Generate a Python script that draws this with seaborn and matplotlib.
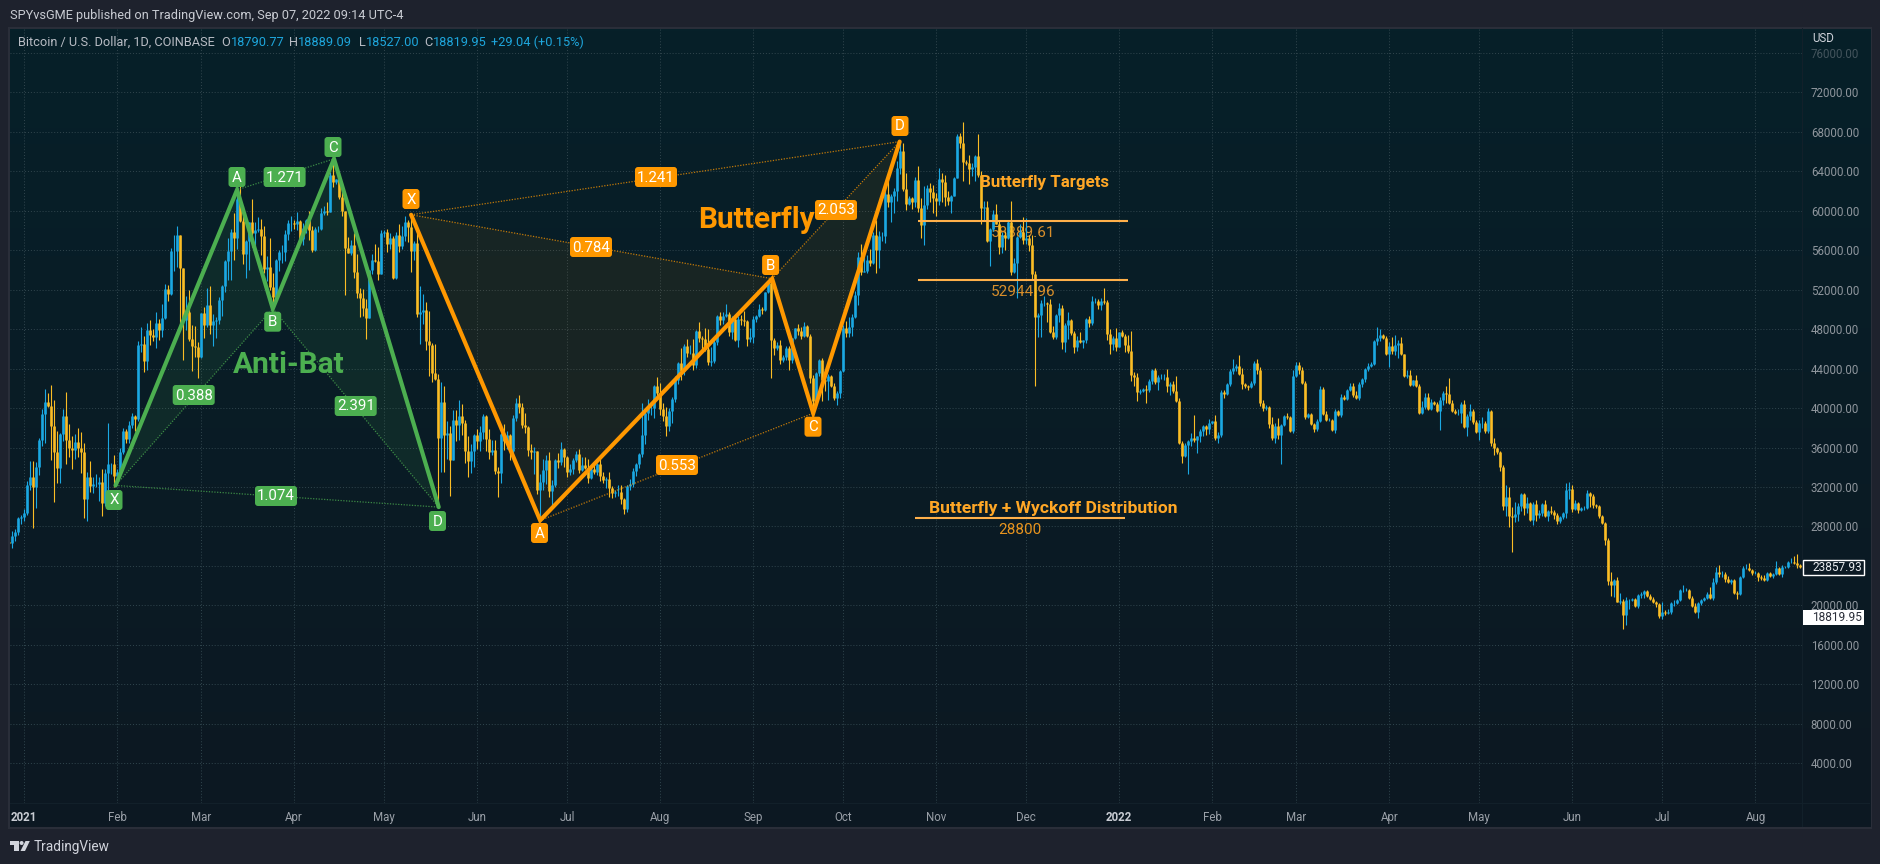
import numpy as np
import pandas as pd
import matplotlib
matplotlib.use("Agg")
import matplotlib.pyplot as plt
import matplotlib.transforms as mtransforms
from matplotlib.patches import FancyBboxPatch, Polygon, Rectangle, Circle
import seaborn as sns

# daily candles from Dec 27 2020 to Aug 16 2022, prices in thousands of USD
first_open = 26.4
closes = [
    26.3, 27.0, 27.4, 28.9, 29.0,
    29.4, 32.2, 33.0, 32.0, 34.0, 36.8, 39.4, 40.6, 40.2, 38.2, 35.5, 33.9, 37.4, 39.2, 36.8, 36.0, 35.8, 36.6, 36.0, 35.5, 30.8, 33.0, 32.1, 32.3, 32.3, 32.5, 30.4, 33.4, 34.3, 34.3, 33.1,
    33.5, 35.5, 37.7, 36.9, 38.3, 39.2, 38.9, 46.4, 46.5, 44.8, 47.9, 47.4, 47.2, 48.6, 47.9, 49.1, 52.1, 51.6, 55.9, 55.9, 57.5, 54.2, 48.9, 49.7, 47.0, 46.3, 46.2, 45.2,
    49.6, 48.4, 50.4, 48.4, 48.8, 48.9, 51.0, 52.4, 54.9, 55.9, 57.8, 57.2, 61.2, 59.0, 55.6, 56.9, 58.9, 57.7, 58.0, 58.1, 57.4, 54.1, 54.3, 52.3, 51.3, 55.0, 55.8, 55.8, 57.6, 58.8, 58.8,
    58.7, 59.0, 57.1, 58.2, 59.1, 58.0, 56.0, 58.1, 58.1, 59.8, 60.0, 59.9, 63.6, 62.9, 63.2, 61.4, 60.0, 56.2, 55.7, 56.5, 53.8, 51.7, 51.2, 50.1, 49.1, 54.0, 55.0, 54.9, 53.6, 57.7,
    57.8, 56.6, 57.2, 53.2, 57.5, 56.4, 57.4, 58.9, 58.3, 55.9, 56.7, 49.5, 49.7, 49.9, 46.8, 46.4, 43.6, 42.9, 37.0, 40.6, 37.3, 37.5, 34.7, 38.8, 38.3, 39.2, 38.5, 35.7, 34.6, 35.7, 37.3,
    36.7, 37.6, 39.2, 36.9, 35.5, 35.8, 33.6, 33.4, 37.4, 36.7, 37.3, 35.6, 39.0, 40.5, 40.1, 38.3, 38.1, 35.8, 35.5, 35.6, 31.7, 32.5, 33.7, 34.7, 31.6, 32.2, 34.7, 34.5, 35.9, 35.0,
    33.5, 33.8, 34.7, 35.3, 33.7, 34.2, 33.9, 32.9, 33.8, 33.5, 34.3, 33.1, 32.7, 32.8, 31.9, 31.4, 31.5, 31.5, 30.8, 29.8, 32.1, 32.3, 33.6, 34.3, 35.3, 37.3, 39.5, 40.0, 40.0, 42.2, 41.5,
    39.9, 39.2, 38.2, 39.7, 40.9, 42.8, 44.6, 43.8, 46.3, 45.6, 45.6, 44.4, 47.8, 47.1, 47.0, 46.0, 44.7, 44.8, 46.7, 49.3, 48.9, 49.3, 49.5, 47.7, 49.0, 46.9, 49.0, 48.9, 48.8, 47.0, 47.2,
    49.0, 49.3, 50.0, 49.9, 51.8, 52.7, 46.9, 46.1, 46.4, 44.9, 45.2, 46.1, 44.9, 47.1, 48.1, 47.8, 47.3, 48.3, 47.3, 43.0, 40.7, 43.6, 44.9, 42.8, 42.7, 43.2, 42.2, 41.0, 41.5, 43.8,
    48.1, 47.6, 48.2, 49.2, 51.5, 55.3, 53.8, 53.9, 55.0, 54.7, 57.5, 56.0, 57.4, 57.4, 61.7, 60.9, 61.5, 62.0, 64.3, 66.0, 62.2, 60.7, 61.3, 60.9, 63.1, 60.3, 58.5, 60.6, 62.3, 61.9, 61.3,
    61.0, 63.2, 62.9, 61.4, 61.0, 61.5, 63.3, 67.6, 66.9, 64.9, 64.8, 64.2, 64.4, 65.5, 63.6, 60.3, 60.4, 56.9, 58.1, 59.7, 58.7, 56.3, 57.5, 57.2, 58.9, 53.8, 54.7, 57.3, 57.8, 57.0,
    57.2, 56.5, 53.6, 49.2, 49.4, 50.6, 50.6, 50.5, 47.7, 47.2, 49.4, 50.1, 46.7, 48.4, 48.9, 47.6, 46.2, 46.9, 46.7, 46.9, 49.0, 48.6, 50.8, 50.8, 50.4, 50.8, 50.7, 47.5, 46.5, 47.1, 46.2,
    47.7, 47.3, 46.4, 45.8, 43.4, 43.1, 41.6, 41.7, 41.9, 41.8, 42.7, 43.9, 42.6, 43.1, 43.1, 43.1, 42.2, 42.4, 41.7, 40.7, 36.5, 35.1, 36.3, 36.7, 37.0, 36.8, 37.2, 37.7, 38.2, 37.9, 38.5,
    38.7, 37.0, 37.3, 41.6, 41.4, 42.4, 43.8, 44.1, 44.3, 43.5, 42.4, 42.2, 42.1, 42.5, 44.6, 43.9, 40.5, 40.0, 40.1, 38.4, 37.0, 38.2, 37.3, 38.3, 39.2, 39.1, 37.7, 43.2,
    44.4, 43.9, 42.5, 39.1, 39.4, 38.4, 37.9, 38.7, 41.9, 39.4, 38.8, 38.8, 37.8, 39.7, 39.3, 41.1, 40.9, 41.8, 42.2, 41.3, 41.0, 42.4, 42.9, 44.0, 44.3, 44.5, 46.8, 47.1, 47.4, 47.1, 45.5,
    46.3, 45.8, 46.4, 46.6, 45.5, 43.2, 43.4, 42.3, 42.8, 42.2, 39.5, 40.1, 41.1, 39.9, 40.6, 40.4, 39.7, 40.8, 41.5, 41.4, 40.5, 39.7, 39.5, 39.5, 40.4, 38.1, 39.2, 39.7, 38.6, 37.6,
    38.5, 38.5, 37.7, 39.7, 36.5, 36.0, 35.5, 34.0, 30.1, 31.0, 29.1, 29.0, 29.3, 30.1, 31.3, 29.9, 30.4, 28.7, 30.3, 29.2, 29.4, 30.3, 29.1, 29.6, 29.5, 29.2, 28.6, 29.0, 29.4, 31.7, 31.8,
    29.8, 30.4, 29.7, 29.9, 29.9, 31.4, 31.1, 30.2, 30.1, 29.1, 28.4, 26.6, 22.5, 22.1, 22.6, 20.4, 20.5, 19.0, 20.6, 20.6, 20.7, 19.9, 21.1, 21.2, 21.5, 21.0, 20.7, 20.3, 20.1, 18.9,
    19.3, 19.2, 19.3, 20.2, 20.2, 20.6, 21.6, 21.6, 21.6, 20.8, 19.9, 19.3, 20.2, 20.6, 20.8, 21.2, 20.8, 22.4, 23.4, 23.2, 23.2, 22.7, 22.4, 22.6, 21.3, 21.2, 22.9, 23.8, 23.8, 23.6, 23.3,
    23.3, 22.9, 22.8, 22.6, 23.3, 23.0, 23.2, 23.8, 23.2, 23.9, 23.9, 24.4, 24.4, 24.3, 24.1, 23.9,
]
up_wick = [
    .6, .5, .3, .1, .2,
    .4, .4, 1.6, 1.6, .5, .2, .5, 1.3, .9, 2.1, 2.6, 2.2, .1, .7, 2.4, 1.6, 1.2, .8, 1.4, 1.6, 1.0, .5, 1.6, .7, 1.0, .5, 1.3, .4, 4.2, .1, .9,
    .3, .5, .3, .2, .4, .3, .1, .4, 1.7, .8, .7, 1.0, .6, 1.1, .4, 1.4, .5, .4, .3, 1.6, .9, .0, .0, 1.7, 2.3, 1.4, 2.0, .5,
    .0, .6, 1.8, 2.0, .7, .3, .3, .1, .1, 1.3, .3, 2.0, .6, 2.0, 1.5, .1, .0, 2.3, .9, 1.3, 1.1, 1.0, 1.1, 2.9, 1.4, .1, .2, .7, .4, .3, .7,
    .3, .9, .1, .6, .1, .9, .4, .2, .3, .5, .5, .9, .3, 2.0, .0, .6, 1.4, .0, 1.1, .5, 1.2, 1.8, .5, .9, 1.0, .0, .6, 1.6, 1.4, .3,
    .2, .3, .5, .2, .3, 1.1, 1.0, .6, .2, 1.2, .2, 1.3, 2.7, 1.7, .8, 3.0, .2, 2.9, .6, 2.0, 1.6, 1.2, .7, 1.0, 1.0, 1.6, 1.2, .3, 1.5, .7, .1,
    .6, .6, .2, .1, 1.0, 1.0, 1.0, .4, .1, 1.0, .4, .1, .3, .5, .8, .4, 1.2, .1, .6, .5, .1, .8, 1.1, .5, .8, .5, .1, .7, .7, .1,
    .1, .5, .2, .4, .6, .8, .8, .9, .3, .6, .1, .5, .4, .2, .7, .2, .2, .7, .7, .1, .1, .5, .3, .1, .1, 3.2, .1, .9, .6, .1, .9,
    1.0, .6, .9, .3, .2, .4, .1, 1.5, .2, .7, .8, 1.4, .1, .9, .2, 1.1, 2.0, 1.4, .2, .1, .4, .4, 1.0, .2, .3, .1, .3, .4, .9, .1, .9,
    .3, .1, .5, .2, .0, .2, .2, .2, .3, .5, .2, .2, .2, .0, .0, .4, .4, .4, .1, .2, .3, .1, .1, .2, .2, .3, .2, .3, .2, .1,
    .3, .7, 1.0, .3, .4, .5, 1.3, 1.9, .5, 1.1, .3, 1.6, .5, .4, .4, 1.9, .2, .3, .7, 1.0, .9, 1.6, .2, .1, .3, 1.4, 1.0, 1.9, .3, .5, .7,
    .5, 1.1, .6, .7, .6, .1, .1, .2, .3, 2.1, .2, .8, .4, .1, 2.3, .4, .6, .6, .1, .4, 1.0, .3, .3, .4, .2, 2.1, .5, .1, .9, 1.6,
    2.1, .3, 1.0, .3, .2, .3, .8, .1, .6, .6, .1, .5, .3, .2, .8, .1, .2, .4, .8, .0, .1, .3, .6, .4, .3, .4, 1.4, .2, .5, .2, 1.0,
    .0, .2, .2, 1.0, 2.0, .3, .5, .2, .1, .4, .2, .1, .2, .2, .4, .4, .9, .2, .3, 1.5, .3, .2, .2, .1, .5, 2.3, .0, .2, .1, .1, .4,
    .0, .6, .3, .2, .2, .1, .2, .9, .2, 1.1, .6, .1, .1, .2, .2, .4, .3, .3, .2, .1, .7, .3, .8, .1, .1, .3, .1, .7,
    .3, .3, .3, .2, .1, .1, .1, .2, .3, .2, .3, .2, .1, .2, .1, .3, .2, .1, .3, .3, .4, .2, .1, .1, .3, .2, .1, 1.1, .6, .1, .2,
    .4, .9, 1.0, .3, .6, .0, .5, .5, .0, .6, .2, .6, .4, .4, .3, .1, .2, .3, .2, .7, 1.6, .3, .2, .4, .2, .4, .2, .7, .2, .2,
    .3, .6, .2, .3, .1, .5, .1, .1, .2, 1.2, 1.0, .9, 1.2, .3, .1, .1, .6, .1, .2, .4, .3, .1, .4, .1, .5, .2, .2, .1, .1, .7, .7,
    .4, .3, .1, .1, .2, .3, .1, .2, .1, .1, .1, .1, .2, .9, .1, .3, .8, .2, .3, .1, .1, .1, .1, .2, .1, .1, .2, .2, .2, .1,
    1.0, .2, .3, .1, .4, .1, .1, .5, .2, .1, .2, .3, .1, .1, .1, .2, .7, .4, .5, .7, .3, .2, .3, .1, .1, .2, .1, .2, .4, .5, .1,
    .2, .1, .2, .3, .1, .1, .1, .7, .1, .2, .1, .1, .4, .6, .9, .1,
]
low_wick = [
    .1, .5, .5, .3, .6,
    .4, .2, .5, 4.2, 2.1, .8, .6, 2.9, .1, 3.5, 5.0, 1.5, 1.5, .7, 2.5, 1.0, 2.0, 1.0, 1.0, 2.1, 1.9, 2.2, .6, .7, .3, 1.7, 1.3, .3, 2.0, 1.0, 1.1,
    .8, .3, .2, .4, .4, .3, 1.2, .2, .7, 1.1, .9, 1.0, .4, 1.1, 1.0, .7, .1, .8, .1, 2.0, 1.6, 6.0, 4.0, 1.0, .2, 2.5, 1.0, 2.2,
    .1, 1.3, .2, .9, 2.1, 1.7, .4, 1.7, .6, 1.9, 2.9, 2.2, 1.1, .1, 1.0, 2.4, 2.9, 1.4, 1.3, .2, 1.9, .4, 1.2, .3, .9, .0, 1.1, 1.1, .9, .6, .9,
    .6, .7, .1, .6, .5, 1.0, .2, .1, .3, .1, .2, .3, .0, .5, .2, .2, .5, 4.7, .0, .2, .6, .5, 2.0, .8, 2.1, .0, .4, .1, .6, .0,
    .4, .8, .5, .1, .1, .6, .3, .5, 1.5, 2.1, .9, .3, 3.0, 1.2, .9, 3.2, 1.0, .1, 7.0, 3.5, 3.8, 2.5, 3.6, .0, 1.6, 1.5, 1.2, 1.3, 1.6, 1.2, 1.7,
    .8, 1.0, .7, 1.3, .7, .3, .3, 2.4, 1.0, .9, .8, .9, .8, .3, .6, .3, .6, .7, .7, 2.2, .4, 2.9, .8, 1.4, .6, 1.4, .2, .6, .3, 1.0,
    .5, .3, .5, .2, .3, .1, .1, .5, .1, .2, .3, .5, .3, .8, .9, .5, .4, .4, .5, .5, .3, .4, .3, .5, .4, .3, .9, .7, .7, 1.0, .4,
    .6, .5, 1.0, .5, 1.2, .3, .4, 1.0, .5, .4, .1, .5, .3, .4, 1.3, .2, .3, .4, .2, .3, .5, .4, .1, .4, .7, .1, .7, .5, .5, .7, .3,
    .6, .3, .1, .4, .1, .1, 3.9, .7, .2, .4, .2, .3, 1.0, .3, .1, .4, .3, .1, .1, .5, 1.1, .0, .4, 2.1, 1.0, 1.9, .1, .2, .7, .5,
    .1, .4, .4, .9, .1, 1.1, .3, .0, .2, .3, .1, 2.3, 1.8, .5, .7, .5, 2.0, 1.7, 1.0, .6, .2, .6, .1, .7, .5, .4, 1.3, 2.0, .4, 1.0, 1.5,
    1.5, .4, 2.0, .9, .4, 1.2, .0, .0, .5, 1.9, .2, 1.5, .7, 1.4, .2, 1.6, 1.3, .1, 2.5, .2, .1, .7, .6, 1.2, .1, .3, .1, 3.5, .1, .4,
    .4, .6, .6, 7.0, 2.0, 2.2, .3, 1.8, .1, .2, .2, .7, .7, 1.0, 1.4, .2, .6, .4, .1, .6, .3, .4, .2, .2, .4, .5, .2, .6, 1.0, .6, .4,
    .0, .1, .7, .2, .7, .9, .9, .2, .1, 1.3, .2, .3, .2, .8, .2, .3, .6, .9, .2, .1, .1, .7, .1, 3.0, .5, .2, 1.4, .6, .5, .6, .5,
    .1, .2, .5, .2, .4, .1, .2, .3, .3, .2, .5, .2, .3, .1, .2, .4, .3, .3, .2, .4, .2, .5, .4, 3.0, .1, .2, .1, .2,
    .1, .4, .1, .2, .1, .1, .3, .2, .1, .1, .1, .1, .1, .3, .1, .2, .1, .1, .1, .2, .1, .2, .3, .3, .2, .1, .1, .4, .3, .1, .1,
    1.3, .3, .4, 1.3, .1, .1, .2, .1, .1, .1, .1, .1, .2, .1, .1, .1, .1, 1.9, .5, .9, .1, .1, .1, .2, 1.0, .1, .9, .4, .2, .1,
    .8, .5, .2, .2, .3, .8, .2, .4, .4, 1.0, 1.2, 3.6, .5, .7, .5, .7, .5, .1, .5, .6, .3, .3, .1, .5, .2, .4, .3, .2, .2, .5, .9,
    .3, .1, .3, .1, .2, .1, 1.1, .3, .2, .2, .1, .5, .4, 1.1, 1.2, .1, .3, 1.4, 1.0, 1.0, .1, .1, .2, .3, .4, .1, .1, .1, .3, .2,
    .3, .2, .1, .2, .3, .1, .1, .2, .1, .1, .1, .1, .6, .2, .1, .1, .1, .2, .2, .3, .3, .3, .1, .2, .1, .5, .1, .1, .1, .1, .2,
    .1, .4, .2, .1, .1, .1, .2, .1, .1, .3, .1, .1, .1, .1, .3, .1,
]

# y and x axis
price_ticks = [4000, 8000, 12000, 16000, 20000, 24000, 28000, 32000, 36000, 40000, 44000, 48000,
               52000, 56000, 60000, 64000, 68000, 72000, 76000]
month_days = [0, 31, 59, 90, 120, 151, 181, 212, 243, 273, 304, 334, 365, 396, 424, 455, 485, 516, 546, 577]
month_labels = ["2021", "Feb", "Mar", "Apr", "May", "Jun", "Jul", "Aug", "Sep", "Oct", "Nov", "Dec",
                "2022", "Feb", "Mar", "Apr", "May", "Jun", "Jul", "Aug"]

# harmonic patterns X A B C D
green_days = [30.5, 71, 82.9, 103.3, 138.2]
green_prices = [32160, 62115, 50075, 65250, 29966]
orange_days = [129, 172, 249.3, 263, 291.8]
orange_prices = [59586, 28620, 53110, 39480, 67000]

GREEN = "#4caf50"
ORANGE = "#ff9800"
BLUE = "#1ba8e2"
YELLOW = "#fbbd25"
PANEL = "#1e222d"

sns.set_theme(style="dark")
plt.rcParams["font.family"] = ["Roboto", "DejaVu Sans"]

fig = plt.figure(figsize=(18.8, 8.64), dpi=100, facecolor=PANEL)
px = mtransforms.Affine2D().scale(1 / 1880, -1 / 864).translate(0, 1) + fig.transFigure


def axes_box(left, top, right, bottom):
    return [left / 1880, 1 - bottom / 864, (right - left) / 1880, (bottom - top) / 864]


# gradient panel behind the chart
bg = fig.add_axes(axes_box(9.5, 28, 1870, 828))
bg.axis("off")
grad = np.zeros((256, 1, 3))
top_col = np.array([6, 32, 41]) / 255
bot_col = np.array([13, 24, 34]) / 255
for i in range(256):
    grad[i, 0] = top_col + (bot_col - top_col) * i / 255
bg.imshow(grad, aspect="auto", extent=(0, 1, 0, 1))

ax = fig.add_axes(axes_box(10, 28, 1802.5, 803))
ax.patch.set_alpha(0)
for s in ax.spines.values():
    s.set_visible(False)

# candles
closes_usd = np.array(closes) * 1000
opens_usd = np.r_[first_open * 1000, closes_usd[:-1]]
highs_usd = np.maximum(opens_usd, closes_usd) + np.array(up_wick) * 1000
lows_usd = np.minimum(opens_usd, closes_usd) - np.array(low_wick) * 1000
days = np.arange(-5, len(closes_usd) - 5)
direction = np.where(closes_usd >= opens_usd, "up", "down")
palette = {"up": BLUE, "down": YELLOW}

wicks = pd.DataFrame({
    "day": np.r_[days, days],
    "price": np.r_[lows_usd, highs_usd],
    "direction": np.r_[direction, direction],
})
bodies = pd.DataFrame({
    "day": np.r_[days, days],
    "price": np.r_[opens_usd, closes_usd],
    "direction": np.r_[direction, direction],
})
sns.lineplot(data=wicks, x="day", y="price", hue="direction", units="day", estimator=None, palette=palette,
             hue_order=["up", "down"], legend=False, ax=ax, linewidth=0.8, solid_capstyle="butt", zorder=2)
sns.lineplot(data=bodies, x="day", y="price", hue="direction", units="day", estimator=None, palette=palette,
             hue_order=["up", "down"], legend=False, ax=ax, linewidth=1.9, solid_capstyle="butt", zorder=2.1)


def draw_pattern(pdays, pprices, color, fill_alpha):
    i_tri = [[0, 1, 2], [2, 3, 4]]
    for tri in i_tri:
        ax.fill([pdays[i] for i in tri], [pprices[i] for i in tri], color=color, alpha=fill_alpha, lw=0, zorder=1)
    sns.lineplot(x=pdays, y=pprices, sort=False, estimator=None, color=color, ax=ax, linewidth=3.0,
                 solid_joinstyle="miter", zorder=3)
    for a, b in [(0, 2), (2, 4), (0, 4), (1, 3)]:
        sns.lineplot(x=[pdays[a], pdays[b]], y=[pprices[a], pprices[b]], sort=False, estimator=None, color=color,
                     ax=ax, linewidth=0.9, linestyle=(0, (1, 1.2)), alpha=0.75, zorder=3)


draw_pattern(green_days, green_prices, GREEN, 0.10)
draw_pattern(orange_days, orange_prices, ORANGE, 0.065)

ax.set_xlim(-4.67, 592.67)
ax.set_ylim(-17, 78510)
ax.set_xlabel("")
ax.set_ylabel("")
ax.set_xticks(month_days)
ax.set_xticklabels(month_labels)
ax.set_yticks(price_ticks)
ax.set_yticklabels([f"{v}.00" for v in price_ticks])
ax.yaxis.tick_right()
ax.tick_params(axis="y", length=0, pad=6, labelsize=8.3, labelcolor="#8f969d")
ax.tick_params(axis="x", length=0, pad=5.5, labelsize=8.3, labelcolor="#9aa0a8")
ax.grid(True, color="#31464e", linestyle=(0, (1, 2)), linewidth=0.7, zorder=0)
ax.set_axisbelow(True)
for lab in ax.get_xticklabels():
    if lab.get_text() in ("2021", "2022"):
        lab.set_fontweight("bold")
        lab.set_color("#c8ccd3")
ax.get_yticklabels()[-1].set_alpha(0.45)


# pattern tags
def tag(x, y, text, color, w=42):
    h = 20
    ax.add_patch(FancyBboxPatch((x - w / 2 + 3, y - h / 2 + 3), w - 6, h - 6, boxstyle="round,pad=3,rounding_size=3",
                                fc=color, ec="none", transform=px, clip_on=False, zorder=5, mutation_scale=1))
    ax.text(x, y + 0.5, text, transform=px, color="white", fontsize=10.8, ha="center", va="center", zorder=6)


for x, y, t in [(237, 177, "A"), (333, 147, "C"), (272.7, 321.7, "B"), (114, 500, "X"), (437.5, 521, "D")]:
    tag(x, y, t, GREEN, w=17)
for x, y, t in [(284.6, 177, "1.271"), (193.7, 395, "0.388"), (355.7, 406, "2.391"), (276, 496, "1.074")]:
    tag(x, y, t, GREEN)
for x, y, t in [(411, 199, "X"), (539.5, 533, "A"), (770.6, 265, "B"), (813, 426.7, "C"), (900, 126, "D")]:
    tag(x, y, t, ORANGE, w=17)
for x, y, t in [(591, 247, "0.784"), (656, 177, "1.241"), (836, 210, "2.053"), (677, 465, "0.553")]:
    tag(x, y, t, ORANGE)

ax.text(288.5, 365, "Anti-Bat", transform=px, color=GREEN, fontsize=21.5, fontweight="bold", ha="center", va="center", zorder=5)
ax.text(756, 220, "Butterfly", transform=px, color=ORANGE, fontsize=21.5, fontweight="bold", ha="center", va="center", zorder=5)
ax.text(1044, 182, "Butterfly Targets", transform=px, color="#ffa726", fontsize=12.2, fontweight="bold", ha="center", va="center", zorder=5)
ax.text(1053.5, 509, "Butterfly + Wyckoff Distribution", transform=px, color="#ffa726", fontsize=12.6, fontweight="bold",
        ha="center", va="center", zorder=5)
ax.text(1023, 233, "58889.61", transform=px, color="#d98f2b", fontsize=11, ha="center", va="center", zorder=1.5)
ax.text(1023, 292, "52944.96", transform=px, color="#d98f2b", fontsize=11, ha="center", va="center", zorder=1.5)
ax.text(1020, 530, "28800", transform=px, color="#e8941e", fontsize=11, ha="center", va="center", zorder=1.5)

# horizontal target lines
for x0, x1, y0 in [(918, 1128, 221), (918, 1128, 280), (915, 1125, 517.7)]:
    ax.plot([x0, x1], [y0, y0], color="#ffb04a", lw=1.5, transform=px, solid_capstyle="butt", zorder=4)


# chart frame and header
def fig_text(x, y, s, **kw):
    kw.setdefault("va", "center")
    kw.setdefault("fontsize", 9.5)
    fig.text(x / 1880, 1 - y / 864, s, **kw)


for r in [(8, 27, 1864, 1.5), (8, 827, 1864, 1.5), (8, 27, 1.5, 802), (1870.5, 27, 1.5, 802)]:
    fig.add_artist(Rectangle((r[0], r[1]), r[2], r[3], transform=px, fc="#2a2e39", ec="none"))
fig.add_artist(Rectangle((1802, 28), 1, 799, transform=px, fc="#12202a", ec="none"))
fig.add_artist(Rectangle((10, 803), 1860, 1, transform=px, fc="#12202a", ec="none"))

fig_text(10, 16, "SPYvsGME published on TradingView.com, Sep 07, 2022 09:14 UTC-4", color="#c8cbd2", fontsize=9.2)
fig_text(18.5, 42, "Bitcoin / U.S. Dollar, 1D, COINBASE", color="#b8bcc4", fontsize=9.2)
for x, s in [(221, "O"), (289, "H"), (359, "L"), (424, "C")]:
    fig_text(x, 42, s, color="#b8bcc4", fontsize=9.2)
for x, s in [(231, "18790.77"), (298, "18889.09"), (366, "18527.00"), (433, "18819.95"), (491, "+29.04 (+0.15%)")]:
    fig_text(x, 42, s, color="#1ea6dc", fontsize=9.2)
fig_text(1812, 39, "USD", color="#d1d4dc", fontsize=8.3)

# last price tags
fig.add_artist(Rectangle((1802.5, 560), 61, 14.5, transform=px, fc="#0c1a24", ec="white", lw=1))
fig_text(1812.5, 567.5, "23857.93", color="#e8eaed", fontsize=8.6)
fig.add_artist(Rectangle((1802.5, 610), 61, 15, transform=px, fc="white", ec="none"))
fig_text(1812.5, 617.5, "18819.95", color="#2a2e39", fontsize=8.6)

# logo
logo = "#d1d4dc"
fig.add_artist(Polygon([(10, 841), (18.5, 841), (18.5, 851), (14, 851), (14, 845), (10, 845)], transform=px, fc=logo, ec="none"))
fig.add_artist(Circle((21.6, 843), 2, transform=px, fc=logo, ec="none"))
fig.add_artist(Polygon([(25.5, 841), (29.8, 841), (25, 851), (20.5, 851)], transform=px, fc=logo, ec="none"))
fig_text(33.5, 847, "TradingView", color="#d1d4dc", fontsize=9.8)

fig.savefig("out.png", dpi=100, facecolor=PANEL)
